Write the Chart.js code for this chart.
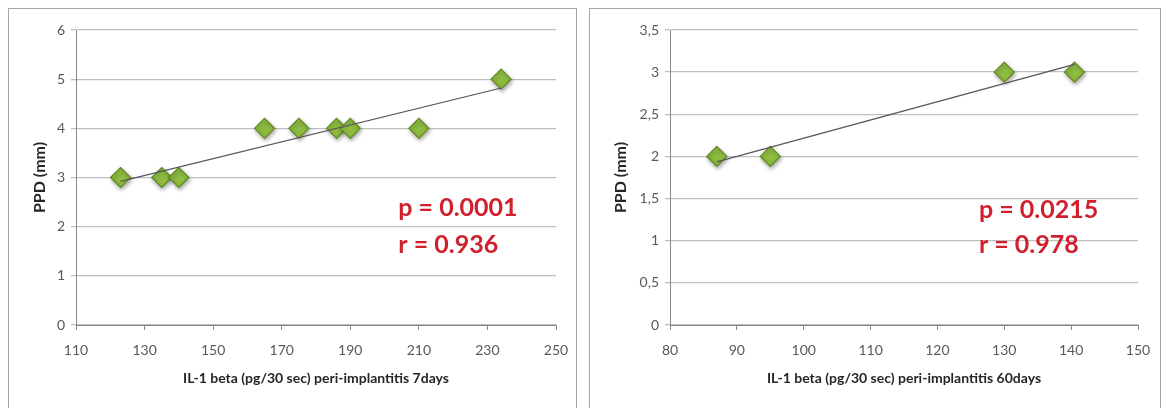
<!DOCTYPE html>
<html>
<head>
<meta charset="utf-8">
<script src="https://cdn.jsdelivr.net/npm/chart.js@4.4.1/dist/chart.umd.min.js"></script>
<style>
  body { margin: 0; background: #fff; width: 1164px; height: 408px; overflow: hidden; position: relative; }
  .panel { position: absolute; top: 8px; height: 410px; border: 1px solid #a6a6a6; background: #fff; }
  #p1 { left: 8px; width: 567px; }
  #p2 { left: 589px; width: 570px; }
  canvas { display: block; }
</style>
</head>
<body>
<div class="panel" id="p1"><canvas id="c1" width="567" height="400"></canvas></div>
<div class="panel" id="p2"><canvas id="c2" width="570" height="400"></canvas></div>
<script>
// 7 dias
const il1_7d = [123, 135, 140, 165, 175, 186, 190, 210, 234];
const ppd_7d = [3, 3, 3, 4, 4, 4, 4, 4, 5];
// 60 dias
const il1_60d = [87, 95, 130, 140.5];
const ppd_60d = [2, 2, 3, 3];

const stats_7d = ['p = 0.0001', 'r = 0.936'];
const stats_60d = ['p = 0.0215', 'r = 0.978'];

const fontFam = 'Lato, "Open Sans", sans-serif';

// linha de tendencia (regressao linear simples)
function trend(xs, ys) {
    const n = xs.length;
    const mx = xs.reduce((a, b) => a + b, 0) / n;
    const my = ys.reduce((a, b) => a + b, 0) / n;
    let sxy = 0, sxx = 0;
    for (let i = 0; i < n; i++) {
        sxy += (xs[i] - mx) * (ys[i] - my);
        sxx += (xs[i] - mx) * (xs[i] - mx);
    }
    const b = sxy / sxx;
    const a = my - b * mx;
    const x0 = Math.min(...xs), x1 = Math.max(...xs);
    return [{ x: x0, y: a + b * x0 }, { x: x1, y: a + b * x1 }];
}

const statsPlugin = {
    id: 'stats',
    beforeDatasetDraw(chart, args) {
        if (args.index === 0) {
            chart.ctx.save();
            chart.ctx.shadowColor = 'rgba(0,0,0,0.35)';
            chart.ctx.shadowBlur = 4;
            chart.ctx.shadowOffsetX = 1;
            chart.ctx.shadowOffsetY = 2;
        }
    },
    afterDatasetDraw(chart, args) {
        if (args.index === 0) chart.ctx.restore();
    },
    afterDatasetsDraw(chart, args, opts) {
        const ctx = chart.ctx;
        const x = chart.scales.x.getPixelForValue(opts.x);
        ctx.save();
        ctx.fillStyle = '#d0202e';
        ctx.font = 'bold 25px ' + fontFam;
        ctx.textBaseline = 'middle';
        opts.lines.forEach((t, i) => {
            ctx.fillText(t, x, chart.scales.y.getPixelForValue(opts.ys[i]));
        });
        ctx.restore();
    }
};

function makeChart(id, xs, ys, xMin, xMax, xStep, yMax, yStep, xTitle, stats, statX, statYs, rightPad, leftPad, yWidth) {
    const pts = xs.map((x, i) => ({ x: x, y: ys[i] }));
    new Chart(document.getElementById(id), {
        type: 'scatter',
        data: {
            datasets: [
                {
                    data: pts,
                    pointStyle: 'rectRot',
                    radius: 10,
                    hoverRadius: 10,
                    backgroundColor: '#8fbc40',
                    borderColor: '#5f8a22',
                    borderWidth: 1.2,
                    order: 1
                },
                {
                    type: 'line',
                    data: trend(xs, ys),
                    borderColor: '#555',
                    borderWidth: 1.2,
                    pointRadius: 0,
                    order: 0
                }
            ]
        },
        options: {
            responsive: false,
            animation: false,
            layout: { padding: { top: 21, right: rightPad, left: leftPad, bottom: 22 } },
            plugins: {
                legend: { display: false },
                tooltip: { enabled: false },
                stats: { lines: stats, x: statX, ys: statYs }
            },
            scales: {
                x: {
                    type: 'linear',
                    min: xMin, max: xMax,
                    afterFit: s => { s.height = 62; s.paddingLeft = 0; s.paddingRight = 0; },
                    ticks: {
                        stepSize: xStep,
                        color: '#595959',
                        font: { family: fontFam, size: 14 },
                        padding: 12
                    },
                    grid: { drawOnChartArea: false, drawTicks: true, tickLength: 5, color: '#888' },
                    border: { color: '#888' },
                    title: {
                        display: true,
                        text: xTitle,
                        color: '#262626',
                        font: { family: fontFam, size: 14, weight: 'bold' },
                        padding: { top: 0, bottom: 0 }
                    }
                },
                y: {
                    min: 0, max: yMax,
                    afterFit: s => { s.width = yWidth; },
                    ticks: {
                        stepSize: yStep,
                        color: '#595959',
                        font: { family: fontFam, size: 14 },
                        padding: 6,
                        callback: v => String(v).replace('.', ',')
                    },
                    grid: { color: '#bfbfbf', lineWidth: 1.3, tickLength: 5 },
                    border: { color: '#888' },
                    title: {
                        display: true,
                        text: 'PPD (mm)',
                        color: '#262626',
                        font: { family: fontFam, size: 16, weight: 'bold' },
                        padding: { top: 0, bottom: 0 }
                    }
                }
            }
        },
        plugins: [statsPlugin]
    });
}

makeChart('c1', il1_7d, ppd_7d, 110, 250, 20, 6, 1,
    'IL-1 beta (pg/30 sec) peri-implantitis 7days', stats_7d, 204, [2.38, 1.63], 20, 21, 46);
makeChart('c2', il1_60d, ppd_60d, 80, 150, 10, 3.5, 0.5,
    'IL-1 beta (pg/30 sec) peri-implantitis 60days', stats_60d, 126.2, [1.36, 0.95], 22, 21, 59);
</script>
</body>
</html>
